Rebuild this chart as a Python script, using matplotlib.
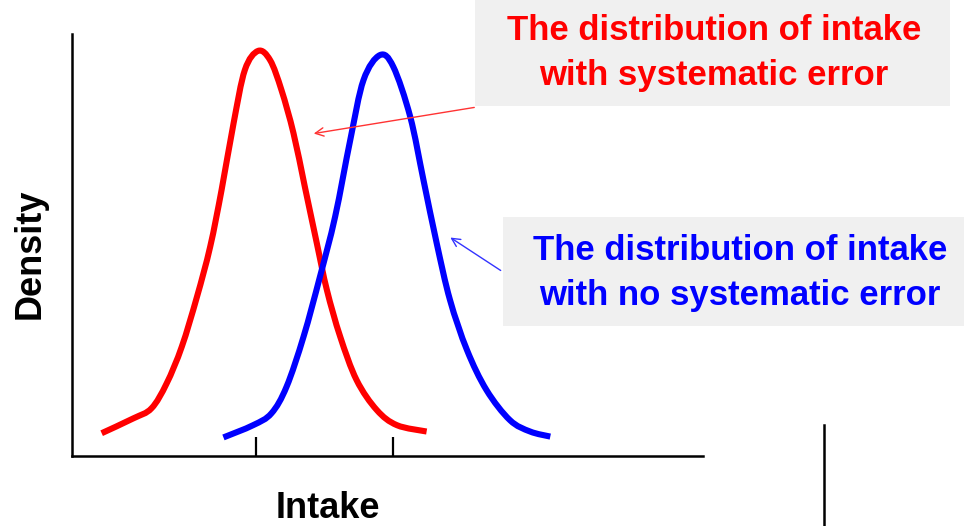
import matplotlib
matplotlib.use("Agg")
import matplotlib.pyplot as plt
from matplotlib.patches import Rectangle, PathPatch, FancyArrowPatch
from matplotlib.path import Path
from matplotlib.lines import Line2D

plt.rcParams['font.family'] = ['Liberation Sans', 'DejaVu Sans']

# 数据
red_x = [4.7, 9.7, 12.6, 15.0, 17.4, 19.8, 21.9, 23.7, 25.6, 27.4, 29.5, 31.4, 33.2,
         35.1, 36.9, 38.8, 40.4, 42.5, 45.1, 48.3, 51.5, 56.2]
red_y = [0.054, 0.089, 0.113, 0.172, 0.259, 0.377, 0.496, 0.630, 0.788, 0.915, 0.960,
         0.938, 0.867, 0.765, 0.638, 0.504, 0.393, 0.283, 0.180, 0.109, 0.073, 0.058]
blue_x = [24.0, 28.7, 31.6, 34.0, 36.7, 39.3, 41.7, 44.1, 46.2, 48.8, 50.9, 53.6, 55.7,
          57.8, 59.9, 62.6, 65.7, 69.4, 72.6, 75.8]
blue_y = [0.044, 0.073, 0.101, 0.164, 0.283, 0.425, 0.567, 0.749, 0.891, 0.950, 0.923,
          0.804, 0.654, 0.504, 0.370, 0.251, 0.156, 0.085, 0.058, 0.046]
tick_pos = [29.2, 50.9]

red_label = "The distribution of intake\nwith systematic error"
blue_label = "The distribution of intake\nwith no systematic error"

W, H = 964, 526
fig = plt.figure(figsize=(W / 100, H / 100), dpi=100)


def fx(px):
    return px / W


def fy(py):
    return 1 - py / H


# 用贝塞尔曲线平滑连接读取的点（Catmull-Rom）
def smooth_path(xs, ys):
    pts = list(zip(xs, ys))
    verts = [pts[0]]
    codes = [Path.MOVETO]
    n = len(pts)
    for i in range(n - 1):
        p0 = pts[max(i - 1, 0)]
        p1 = pts[i]
        p2 = pts[i + 1]
        p3 = pts[min(i + 2, n - 1)]
        c1 = (p1[0] + (p2[0] - p0[0]) / 6, p1[1] + (p2[1] - p0[1]) / 6)
        c2 = (p2[0] - (p3[0] - p1[0]) / 6, p2[1] - (p3[1] - p1[1]) / 6)
        verts += [c1, c2, p2]
        codes += [Path.CURVE4] * 3
    return Path(verts, codes)


ax = fig.add_axes([fx(72), fy(456), fx(703) - fx(72), fy(34) - fy(456)])
ax.add_patch(PathPatch(smooth_path(red_x, red_y), facecolor='none', edgecolor='#ff0000',
                       lw=4.4, capstyle='butt', joinstyle='round'))
ax.add_patch(PathPatch(smooth_path(blue_x, blue_y), facecolor='none', edgecolor='#0000ff',
                       lw=4.4, capstyle='butt', joinstyle='round'))
ax.set_xlim(0, 100)
ax.set_ylim(0, 1)
ax.spines['top'].set_visible(False)
ax.spines['right'].set_visible(False)
ax.spines['left'].set_linewidth(1.8)
ax.spines['bottom'].set_linewidth(1.8)
ax.set_xticks(tick_pos)
ax.set_xticklabels([])
ax.set_yticks([])
ax.tick_params(axis='x', direction='in', length=13.5, width=1.6, color='black')

fig.text(fx(328), fy(509), "Intake", ha='center', va='center', fontsize=26, fontweight='bold')
fig.text(fx(30), fy(254), "Density", ha='center', va='center', fontsize=26, fontweight='bold',
         rotation=90)

# 注释框
fig.patches.append(Rectangle((fx(475), fy(106)), fx(950) - fx(475), fy(0) - fy(106),
                             transform=fig.transFigure, facecolor='#f0f0f0', edgecolor='none'))
fig.patches.append(Rectangle((fx(503), fy(326)), fx(964) - fx(503), fy(217) - fy(326),
                             transform=fig.transFigure, facecolor='#f0f0f0', edgecolor='none'))
fig.text(fx(714), fy(53), red_label, ha='center', va='center', color='#ff0000',
         fontsize=25, fontweight='bold', linespacing=1.5)
fig.text(fx(740), fy(273), blue_label, ha='center', va='center', color='#0000ff',
         fontsize=25, fontweight='bold', linespacing=1.5)

# 箭头
fig.add_artist(FancyArrowPatch(
    (fx(477), fy(107)), (fx(311), fy(134)), transform=fig.transFigure,
    arrowstyle='->,head_length=6,head_width=3', color='#ff3333', lw=1))
fig.add_artist(FancyArrowPatch(
    (fx(503), fy(272)), (fx(448), fy(236)), transform=fig.transFigure,
    arrowstyle='->,head_length=6,head_width=3', color='#3333ff', lw=1))

# 右下角竖线
fig.add_artist(Line2D([fx(824), fx(824)], [fy(425), fy(526)],
                      transform=fig.transFigure, color='black', lw=1.8))

fig.savefig("out.png", dpi=100)
